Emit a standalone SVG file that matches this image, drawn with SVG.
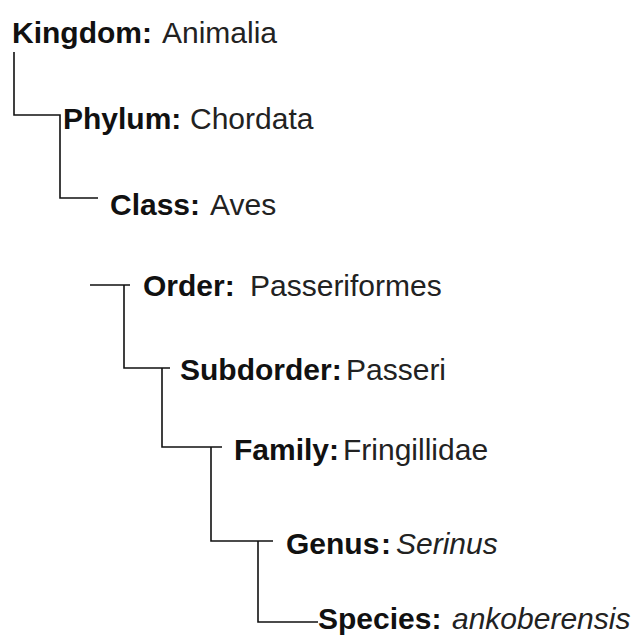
<svg xmlns="http://www.w3.org/2000/svg" width="632" height="637" viewBox="0 0 632 637">
<style>
.k{font-family:"Liberation Sans",Arial,sans-serif;font-size:30px;font-weight:bold;fill:#111}
.v{font-family:"Liberation Sans",Arial,sans-serif;font-size:30px;fill:#222}
.i{font-style:italic}
.c{fill:none;stroke:#111;stroke-width:1.6}
</style>
<rect width="632" height="637" fill="#fff"/>
<g id="connectors">
<path class="c" d="M14 52V115H60V198H98"/>
<path class="c" d="M90 285H130M124 285V368H170M162 368V447H222M211 447V541H273M258 541V622H318"/>
</g>
<g id="kingdom"><text class="k" x="12" y="43">Kingdom:</text><text class="v" x="162" y="43">Animalia</text></g>
<g id="phylum"><text class="k" x="63" y="129">Phylum:</text><text class="v" x="190" y="129">Chordata</text></g>
<g id="class"><text class="k" x="110" y="215">Class:</text><text class="v" x="210" y="215">Aves</text></g>
<g id="order"><text class="k" x="143" y="296">Order:</text><text class="v" x="250" y="296">Passeriformes</text></g>
<g id="suborder"><text class="k" x="180" y="380">Subdorder:</text><text class="v" x="346" y="380">Passeri</text></g>
<g id="family"><text class="k" x="234" y="460">Family:</text><text class="v" x="343" y="460">Fringillidae</text></g>
<g id="genus"><text class="k" x="286" y="554">Genus</text><text class="k" x="381" y="554">:</text><text class="v i" x="396" y="554">Serinus</text></g>
<g id="species"><text class="k" x="318" y="629">Species:</text><text class="v i" x="452" y="629">ankoberensis</text></g>
</svg>
